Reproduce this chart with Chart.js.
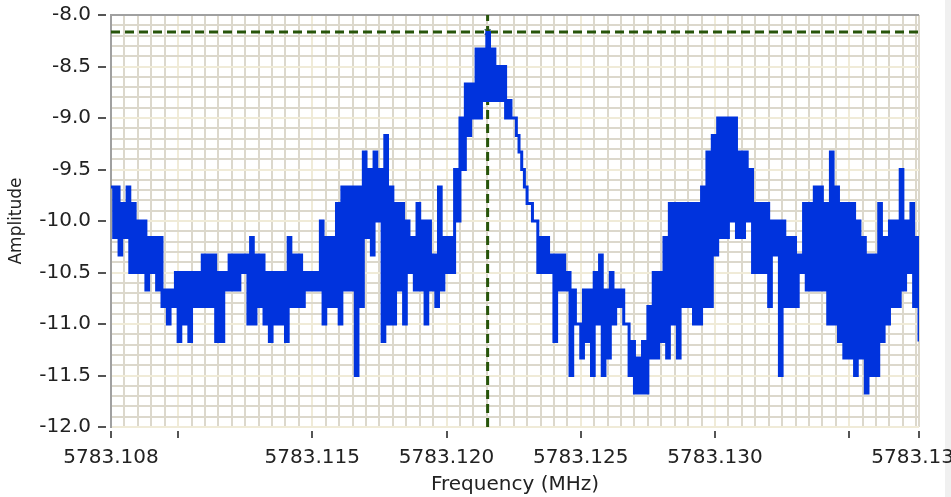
<!DOCTYPE html>
<html>
<head>
<meta charset="utf-8">
<script src="https://cdn.jsdelivr.net/npm/chart.js@4.4.1/dist/chart.umd.min.js"></script>
<style>
  html, body { margin: 0; padding: 0; background: #ffffff; }
  #wrap { position: relative; width: 951px; height: 497px; overflow: hidden; }
  #strip { position: absolute; left: 945px; top: 0; width: 6px; height: 497px; background: #f0f0f0; }
  #spectrumChart { position: absolute; left: 0; top: 0; }
</style>
</head>
<body>
<div id="wrap">
  <div id="strip"></div>
  <canvas id="spectrumChart" width="951" height="497"></canvas>
</div>
<script>
// Frequency grid of the trace (MHz)
const freqStart = 5783.1075;
const freqStep = 0.0001;

// Amplitude trace left to right (noisy, so it swings
// between an upper and lower level almost every sample)
const amplitude = [
  -9.67, -10.16, -9.67, -10.33, -9.83, -10.16, -9.67, -10.5, -9.83, -10.5,
  -10.0, -10.5, -10.0, -10.67, -10.16, -10.5, -10.16, -10.67, -10.16, -10.83,
  -10.67, -11.0, -10.67, -10.83, -10.5, -11.17, -10.5, -11.0, -10.5, -11.17,
  -10.5, -10.83, -10.5, -10.83, -10.33, -10.83, -10.33, -10.83, -10.33, -11.17,
  -10.5, -11.17, -10.5, -10.67, -10.33, -10.67, -10.33, -10.67, -10.33, -10.5,
  -10.33, -11.0, -10.16, -11.0, -10.33, -10.83, -10.33, -11.0, -10.5, -11.17,
  -10.5, -11.0, -10.5, -11.0, -10.5, -11.17, -10.16, -10.83, -10.33, -10.83,
  -10.33, -10.83, -10.5, -10.67, -10.5, -10.67, -10.5, -10.67, -10.0, -11.0,
  -10.16, -10.83, -10.16, -10.83, -9.83, -11.0, -9.67, -10.67, -9.67, -10.67,
  -9.67, -11.5, -9.67, -10.83, -9.33, -10.16, -9.5, -10.33, -9.33, -10.0,
  -9.5, -11.17, -9.17, -11.0, -9.67, -11.0, -9.83, -10.67, -9.83, -11.0,
  -10.0, -10.5, -10.16, -10.67, -9.83, -10.67, -10.0, -11.0, -10.0, -10.67,
  -10.33, -10.83, -9.67, -10.67, -10.16, -10.5, -10.16, -10.5, -9.5, -10.0,
  -9.0, -9.5, -8.67, -9.17, -8.67, -9.0, -8.33, -9.0, -8.33, -8.83,
  -8.17, -8.83, -8.33, -8.83, -8.5, -8.83, -8.5, -9.0, -8.83, -9.0,
  -9.0, -9.17, -9.33, -9.5, -9.67, -9.83, -9.83, -10.0, -10.0, -10.5,
  -10.16, -10.5, -10.16, -10.5, -10.33, -11.17, -10.33, -10.67, -10.33, -10.67,
  -10.5, -11.5, -10.67, -11.0, -11.0, -11.33, -10.67, -11.17, -10.67, -11.5,
  -10.5, -11.0, -10.33, -11.5, -10.67, -11.33, -10.5, -11.0, -10.67, -10.83,
  -10.67, -11.0, -11.0, -11.5, -11.17, -11.67, -11.33, -11.67, -11.17, -11.67,
  -10.83, -11.33, -10.5, -11.33, -10.5, -11.17, -10.16, -11.33, -9.83, -11.0,
  -9.83, -11.33, -9.83, -10.83, -9.83, -10.83, -9.83, -11.0, -9.83, -11.0,
  -9.67, -10.83, -9.33, -10.83, -9.17, -10.33, -9.0, -10.16, -9.0, -10.16,
  -9.0, -10.0, -9.0, -10.16, -9.33, -10.16, -9.33, -10.0, -9.5, -10.5,
  -9.83, -10.5, -9.83, -10.5, -9.83, -10.83, -10.0, -10.33, -10.0, -11.5,
  -10.0, -10.83, -10.16, -10.83, -10.16, -10.83, -10.33, -10.5, -9.83, -10.67,
  -9.83, -10.67, -9.67, -10.67, -9.67, -10.67, -9.83, -11.0, -9.33, -11.0,
  -9.67, -11.17, -9.83, -11.33, -9.83, -11.33, -9.83, -11.5, -10.0, -11.33,
  -10.16, -11.67, -10.33, -11.5, -10.33, -11.5, -9.83, -11.17, -10.16, -11.0,
  -10.0, -10.83, -10.0, -10.83, -9.5, -10.67, -10.0, -10.5, -9.83, -10.83,
  -10.16, -11.17
];

// Cursor position
const cursorFreq = 5783.12153;
const cursorAmp = -8.165;

// Axes
const xMin = 5783.1075;
const xMax = 5783.1376;
const yMin = -12.0;
const yMax = -8.0;
const xLabelTicks = [5783.1075, 5783.115, 5783.120, 5783.125, 5783.130, 5783.1376];
const xLabelText = ['5783.108', '5783.115', '5783.120', '5783.125', '5783.130', '5783.138'];
const xMarkTicks = [5783.1075, 5783.110, 5783.115, 5783.120, 5783.125, 5783.130, 5783.135, 5783.1376];
const yLabelTicks = [-8.0, -8.5, -9.0, -9.5, -10.0, -10.5, -11.0, -11.5, -12.0];

const traceColor = '#0033dd';
const cursorColor = '#27540a';
const minorGrid = '#dcd8cc';
const majorGrid = '#f0ebd8';
const axisGrey = '#a0a0a0';
const textColor = '#222222';

const traceData = amplitude.map((v, i) => ({ x: freqStart + i * freqStep, y: v }));

function isMajorX(v) {
    const k = v * 200;
    return Math.abs(k - Math.round(k)) < 1e-6;
}
function isMajorY(v) {
    const k = v * 2;
    return Math.abs(k - Math.round(k)) < 1e-6;
}

// short tick marks standing off the plot, like the original front panel
const tickMarks = {
    id: 'tickMarks',
    afterDraw(chart) {
        const { ctx, chartArea, scales } = chart;
        ctx.save();
        ctx.strokeStyle = '#555555';
        ctx.lineWidth = 2;
        ctx.beginPath();
        xMarkTicks.forEach(v => {
            const px = Math.round(scales.x.getPixelForValue(v));
            ctx.moveTo(px, chartArea.bottom + 4);
            ctx.lineTo(px, chartArea.bottom + 11);
        });
        yLabelTicks.forEach(v => {
            const py = Math.round(scales.y.getPixelForValue(v));
            ctx.moveTo(chartArea.left - 13, py);
            ctx.lineTo(chartArea.left - 5, py);
        });
        ctx.stroke();
        ctx.restore();
    }
};

const ctx = document.getElementById('spectrumChart').getContext('2d');

const spectrumChart = new Chart(ctx, {
    type: 'line',
    data: {
        datasets: [
            {
                label: 'Trace',
                data: traceData,
                borderColor: traceColor,
                borderWidth: 3,
                stepped: true,
                pointRadius: 0,
                fill: false
            },
            {
                label: 'Cursor H',
                data: [{ x: xMin, y: cursorAmp }, { x: xMax, y: cursorAmp }],
                borderColor: cursorColor,
                borderWidth: 3,
                borderDash: [9, 5],
                pointRadius: 0
            },
            {
                label: 'Cursor V',
                data: [{ x: cursorFreq, y: yMin }, { x: cursorFreq, y: yMax }],
                borderColor: cursorColor,
                borderWidth: 3,
                borderDash: [9, 5],
                pointRadius: 0
            },
            {
                label: 'Cursor point',
                data: [{ x: cursorFreq, y: cursorAmp }],
                showLine: false,
                pointStyle: 'crossRot',
                pointRadius: 4,
                borderColor: '#2a4f5a',
                borderWidth: 1.5
            }
        ]
    },
    options: {
        responsive: false,
        animation: false,
        layout: { padding: { left: 0, right: 32, top: 15, bottom: 0 } },
        plugins: {
            legend: { display: false },
            tooltip: { enabled: false }
        },
        scales: {
            x: {
                type: 'linear',
                min: xMin,
                max: xMax,
                afterBuildTicks: scale => {
                    const t = [];
                    for (let k = 0; k * 0.0005 + xMin <= xMax + 1e-9; k++) {
                        t.push({ value: xMin + k * 0.0005 });
                    }
                    t.push({ value: xMax });
                    scale.ticks = t;
                },
                afterFit: scale => {
                    scale.height = 70;
                    scale.paddingLeft = 0;
                    scale.paddingRight = 0;
                },
                ticks: {
                    autoSkip: false,
                    minRotation: 0,
                    maxRotation: 0,
                    padding: 19,
                    color: textColor,
                    font: { family: 'DejaVu Sans', size: 20 },
                    callback: v => {
                        const idx = xLabelTicks.findIndex(t => Math.abs(t - v) < 1e-7);
                        return idx >= 0 ? xLabelText[idx] : '';
                    }
                },
                grid: {
                    drawTicks: false,
                    lineWidth: 2,
                    color: c => isMajorX(c.tick.value) ? majorGrid : minorGrid
                },
                border: { display: false },
                title: {
                    display: true,
                    text: 'Frequency (MHz)',
                    color: textColor,
                    font: { family: 'DejaVu Sans', size: 20 },
                    padding: { top: 0, bottom: 0 }
                }
            },
            y: {
                min: yMin,
                max: yMax,
                afterBuildTicks: scale => {
                    const t = [];
                    for (let k = 0; k <= 40; k++) {
                        t.push({ value: Math.round((yMin + k * 0.1) * 10) / 10 });
                    }
                    scale.ticks = t;
                },
                afterFit: scale => {
                    scale.width = 111;
                    scale.paddingTop = 0;
                    scale.paddingBottom = 0;
                },
                ticks: {
                    autoSkip: false,
                    padding: 20,
                    color: textColor,
                    font: { family: 'DejaVu Sans', size: 20 },
                    callback: v => isMajorY(v) ? v.toFixed(1) : ''
                },
                grid: {
                    drawTicks: false,
                    lineWidth: 2,
                    color: c => {
                        if (Math.abs(c.tick.value - yMax) < 1e-6) return axisGrey;
                        return isMajorY(c.tick.value) ? majorGrid : minorGrid;
                    }
                },
                border: { display: true, color: axisGrey, width: 2 },
                title: {
                    display: true,
                    text: 'Amplitude',
                    color: textColor,
                    font: { family: 'DejaVu Sans', size: 17 },
                    padding: { top: 6, bottom: 0 }
                }
            }
        }
    },
    plugins: [tickMarks]
});
</script>
</body>
</html>
